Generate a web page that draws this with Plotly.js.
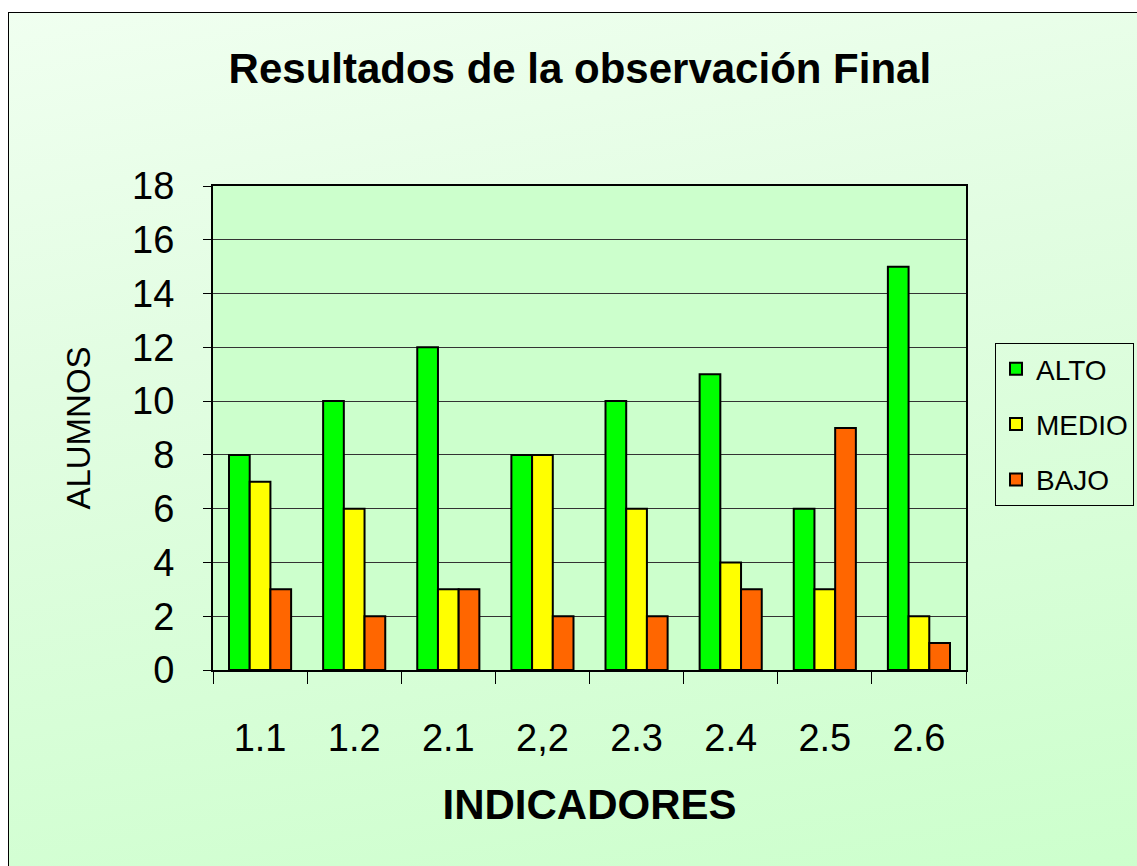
<!DOCTYPE html>
<html>
<head>
<meta charset="utf-8">
<script src="https://cdn.plot.ly/plotly-3.0.1.min.js"></script>
<style>
  html, body { margin: 0; padding: 0; width: 1137px; height: 866px; overflow: hidden; background: #ffffff; }
  #bg { position: absolute; left: 8px; top: 12px; width: 1140px; height: 870px; box-sizing: border-box;
        border: 1px solid #000; background: linear-gradient(170deg, #f0fff0 0%, #e2fde2 35%, #ccffcc 100%); }
  #chart { position: absolute; left: 0; top: 0; width: 1137px; height: 866px; }
</style>
</head>
<body>
<div id="bg"></div>
<div id="chart"></div>
<script>
const categories = ["1.1", "1.2", "2.1", "2,2", "2.3", "2.4", "2.5", "2.6"];
const alto  = [8, 10, 12, 8, 10, 11, 6, 15];
const medio = [7, 6, 3, 8, 6, 4, 3, 2];
const bajo  = [3, 2, 3, 2, 2, 3, 9, 1];
const yTicks = [0, 2, 4, 6, 8, 10, 12, 14, 16, 18];

const font = "Liberation Sans, Arial, sans-serif";

function series(name, values, color, group) {
  return {
    type: "bar", name: name, x: categories, y: values,
    legendgroup: group,
    marker: { color: color, line: { color: "#000000", width: 2 } },
    hoverinfo: "x+y+name"
  };
}

const data = [
  series("ALTO", alto, "#00ff00", "a"),
  series("MEDIO", medio, "#ffff00", "b"),
  series("BAJO", bajo, "#ff6600", "c")
];

const layout = {
  width: 1137, height: 866,
  paper_bgcolor: "rgba(0,0,0,0)",
  plot_bgcolor: "#ccffcc",
  margin: { l: 213, r: 171, t: 186, b: 196 },
  barmode: "group", bargap: 0.34, bargroupgap: 0,
  title: { text: "<b>Resultados de la observación Final</b>", font: { family: font, size: 42, color: "#000" },
           x: 0.51, xanchor: "center", y: 0.921, yanchor: "middle" },
  xaxis: {
    type: "category", tickson: "boundaries", ticks: "outside", ticklen: 12, tickcolor: "#000", tickwidth: 1,
    showline: true, linecolor: "#000", linewidth: 2, mirror: true,
    tickfont: { family: font, size: 38, color: "#000" }, ticklabelstandoff: 33,
    title: { text: "<b>INDICADORES</b>", font: { family: font, size: 42, color: "#000" }, standoff: 32 },
    showgrid: false
  },
  yaxis: {
    range: [0, 18], tickvals: yTicks, ticks: "outside", ticklen: 8, tickcolor: "#000", tickwidth: 1,
    showline: true, linecolor: "#000", linewidth: 2, mirror: true,
    showgrid: true, gridcolor: "#333333", gridwidth: 1, zeroline: false,
    tickfont: { family: font, size: 38, color: "#000" }, ticklabelstandoff: 21,
    title: { text: "ALUMNOS", font: { family: font, size: 33, color: "#000" }, standoff: 32 }
  },
  legend: {
    xref: "container", yref: "container",
    x: 995 / 1137, xanchor: "left", y: 1 - 343 / 866, yanchor: "top",
    bgcolor: "rgba(0,0,0,0)", bordercolor: "#000", borderwidth: 1,
    font: { family: font, size: 28, color: "#000" },
    traceorder: "grouped", tracegroupgap: 16, itemwidth: 30
  },
  showlegend: true
};

Plotly.newPlot("chart", data, layout, { displayModeBar: false, staticPlot: true });
</script>
</body>
</html>
